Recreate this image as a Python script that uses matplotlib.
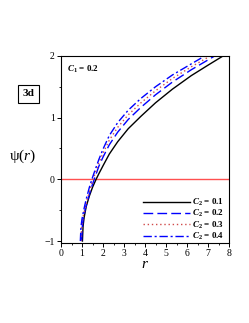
import matplotlib
matplotlib.use("Agg")
import matplotlib.pyplot as plt

plt.rcParams['font.family'] = ['Liberation Serif', 'DejaVu Serif']
plt.rcParams['mathtext.fontset'] = 'custom'
plt.rcParams['mathtext.rm'] = 'Liberation Serif'
plt.rcParams['mathtext.it'] = 'Liberation Serif:italic'
plt.rcParams['mathtext.bf'] = 'Liberation Serif:bold:italic'
plt.rcParams['mathtext.sf'] = 'Liberation Serif:bold'

# ---- data ----
# C2 = 0.1 (black, solid)
r_c01 = [1.02, 1.05, 1.1, 1.2, 1.35, 1.5, 1.67, 1.8, 2.0, 2.3, 2.7, 3.2, 3.8, 4.5, 5.3, 6.2, 7.0, 7.72]
psi_c01 = [-1.0, -0.76, -0.62, -0.44, -0.27, -0.13, 0.0, 0.09, 0.22, 0.41, 0.61, 0.82, 1.02, 1.24, 1.46, 1.68, 1.85, 2.0]

# C2 = 0.2 (blue, dashed)
r_c02 = [0.98, 1.01, 1.06, 1.15, 1.3, 1.45, 1.58, 1.8, 2.0, 2.3, 2.7, 3.2, 3.8, 4.5, 5.3, 6.2, 7.0, 7.32]
psi_c02 = [-1.0, -0.78, -0.64, -0.49, -0.3, -0.13, 0.0, 0.21, 0.36, 0.56, 0.765, 0.97, 1.165, 1.37, 1.575, 1.775, 1.935, 2.0]

# C2 = 0.3 (red, dotted)
r_c03 = [0.95, 0.98, 1.03, 1.12, 1.26, 1.4, 1.53, 1.8, 2.0, 2.3, 2.7, 3.2, 3.8, 4.5, 5.3, 6.2, 7.0, 7.1]
psi_c03 = [-1.0, -0.78, -0.64, -0.5, -0.31, -0.14, 0.0, 0.265, 0.425, 0.635, 0.843, 1.045, 1.238, 1.435, 1.633, 1.823, 1.978, 2.0]

# C2 = 0.4 (blue, dash-dot)
r_c04 = [0.92, 0.95, 1.0, 1.1, 1.2, 1.35, 1.47, 1.6, 1.8, 2.0, 2.3, 2.7, 3.2, 3.8, 4.5, 5.3, 6.2, 6.85]
psi_c04 = [-1.0, -0.77, -0.64, -0.47, -0.32, -0.13, 0.0, 0.13, 0.32, 0.49, 0.71, 0.92, 1.12, 1.31, 1.5, 1.69, 1.87, 2.0]

c2_labels = ["0.1", "0.2", "0.3", "0.4"]

fig = plt.figure(figsize=(2.49, 3.23), dpi=100)
ax = fig.add_axes([0.245, 0.248, 0.675, 0.579])

ax.axhline(0, color="#ff5050", lw=1.0)

lab = [r"$\mathbf{C}_\mathsf{2}$ = " + s for s in c2_labels]
ax.plot(r_c01, psi_c01, color="black", lw=1.0, label=lab[0])
ax.plot(r_c02, psi_c02, color="blue", lw=1.0, ls=(0, (7, 3)), label=lab[1])
ax.plot(r_c03, psi_c03, color="#d04a4a", lw=1.0, ls=(0, (1, 2)), label=lab[2])
ax.plot(r_c04, psi_c04, color="blue", lw=1.0, ls=(0, (6, 2, 1.5, 2)), label=lab[3])

ax.set_xlim(0, 8)
ax.set_ylim(-1.03, 2)
ax.set_xticks(range(0, 9))
ax.set_yticks([-1, 0, 1, 2])
ax.set_yticklabels(["\u22121", "0", "1", "2"])
ax.set_xticks([i + 0.5 for i in range(8)], minor=True)
ax.set_yticks([-0.5, 0.5, 1.5], minor=True)
ax.tick_params(which="major", direction="out", length=3, width=0.7, labelsize=7, pad=1.5)
ax.tick_params(which="minor", direction="out", length=1.5, width=0.6)
for s in ax.spines.values():
    s.set_linewidth(0.8)

ax.set_xlabel(r"$\mathit{r}$", fontsize=11, labelpad=0)
fig.text(0.09, 0.515, "\u03c8($\\mathit{r}$)", fontsize=11, ha="center", va="center")

ax.text(0.035, 0.955, r"$\mathbf{C}_\mathsf{1}$ = 0.2", transform=ax.transAxes,
        fontsize=6.5, fontweight="bold", ha="left", va="top")
fig.text(0.115, 0.71, "3d", fontsize=8, fontweight="bold", ha="center", va="center",
         bbox=dict(boxstyle="square,pad=0.4", fc="white", ec="black", lw=0.8))

leg = ax.legend(loc="lower right", bbox_to_anchor=(1.0, -0.025), frameon=False,
                handlelength=5.2, handletextpad=0.15, labelspacing=0.02,
                borderaxespad=0.2, prop={"weight": "bold", "size": 6.5})

fig.savefig("out.png", dpi=100)
